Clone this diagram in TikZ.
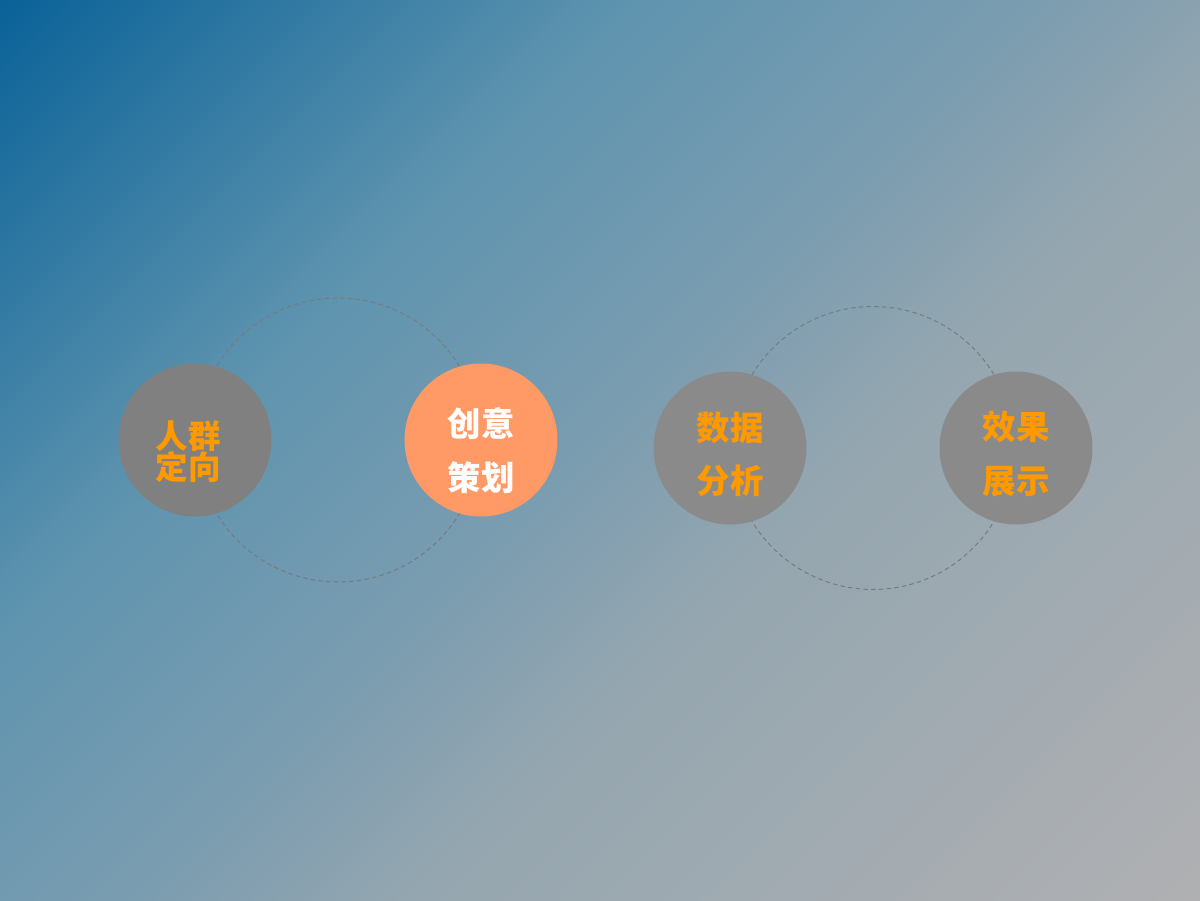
\documentclass[tikz,border=0pt]{standalone}
\usepackage{fontspec}
\newfontfamily\cjk{Noto Sans CJK SC}
\usetikzlibrary{calc,backgrounds}
\definecolor{bgA}{RGB}{10,98,152}
\definecolor{bgB}{RGB}{95,148,175}
\definecolor{bgC}{RGB}{124,157,176}
\definecolor{bgD}{RGB}{148,166,176}
\definecolor{bgE}{RGB}{176,176,178}
\definecolor{ballgray}{RGB}{128,128,128}
\definecolor{ballgrayb}{RGB}{138,138,138}
\definecolor{ballsalmon}{RGB}{255,153,102}
\definecolor{wordorange}{RGB}{255,153,0}
\definecolor{ringgray}{RGB}{118,122,126}
\pgfdeclareverticalshading{bgshade}{100bp}{color(0bp)=(bgE); color(14.65bp)=(bgE); color(41.5bp)=(bgD); color(50bp)=(bgC); color(64.15bp)=(bgB); color(85.36bp)=(bgA); color(100bp)=(bgA)}
\tikzset{
	word/.style={align=center,minimum size=0pt,font=\cjk\bfseries\fontsize{19}{30.5}\selectfont},
	wordtight/.style={word,font=\cjk\bfseries\fontsize{18.5}{17}\selectfont}
}
\begin{document}
\begin{tikzpicture}[x=0.02cm,y=0.02cm]
	\useasboundingbox (0,0) rectangle (1200,900);
	
	\begin{scope}[every node/.style={circle,minimum size=3.06cm,inner sep=0pt}]
		\node[fill=ballgray,label={[wordtight,text=wordorange,xshift=-0.14cm,yshift=-0.23cm]center:人群\\[-1pt]定向}] (A) at (195,460) {};
		\node[fill=ballsalmon,label={[word,text=white,yshift=-0.21cm]center:创意\\策划}] (B) at (481,460) {};
		\node[fill=ballgrayb,label={[word,text=wordorange,yshift=-0.13cm]center:数据\\分析}] (C) at (730,452) {};
		\node[fill=ballgrayb,label={[word,text=wordorange,yshift=-0.12cm]center:效果\\展示}] (D) at (1016,452) {};
	\end{scope}
	
	\begin{scope}[on background layer]
		\shade[shading=bgshade,shading angle=45] (0,0) rectangle (1200,900);
		\begin{scope}[every path/.style={draw=ringgray,line width=0.55pt,dash pattern=on 2.6pt off 1.8pt}]
			\path ($(A)!0.5!(B)$) circle[radius=2.84cm];
			\path ($(C)!0.5!(D)$) circle[radius=2.83cm];
		\end{scope}
	\end{scope}
\end{tikzpicture}
\end{document}
